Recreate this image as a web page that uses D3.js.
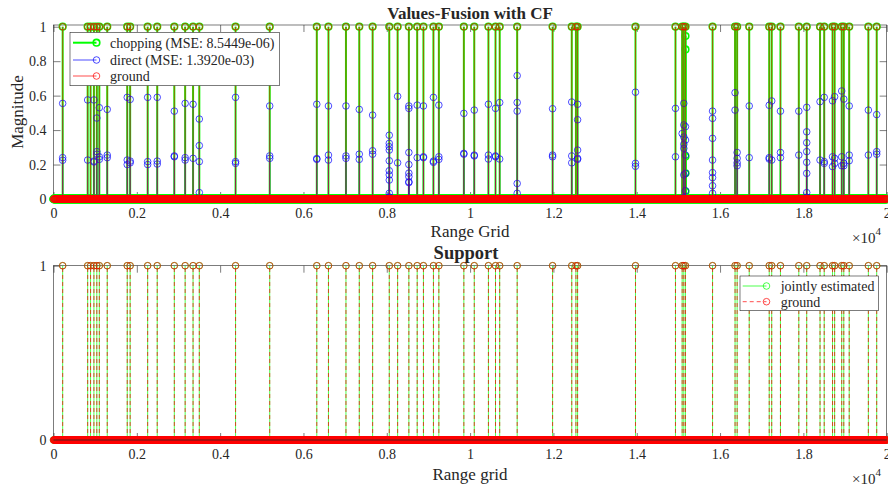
<!DOCTYPE html>
<html><head><meta charset="utf-8">
<script src="https://cdn.jsdelivr.net/npm/d3@7"></script>
<style>
body{margin:0;background:#fff}
svg{display:block}
text{font-family:"Liberation Serif","Times New Roman",serif;fill:#262626}
</style>
</head><body>
<svg id="c" width="888" height="488"></svg>
<script>
// ---------- data ----------
const xTicks = [0,2000,4000,6000,8000,10000,12000,14000,16000,18000,20000];
const yTicksTop = [0,0.2,0.4,0.6,0.8,1];
const yTicksBottom = [0,1];
const rangeGridStep = 10;            // range grid spacing (all non-support cells are 0)
const rangeGridMax = 20000;

// ground-truth support positions (value 1)
const supportPositions = [220,820,890,970,1040,1100,1290,1770,1840,2260,2490,2900,3160,3350,3500,4370,5190,
  6320,6600,7020,7340,7660,8060,8260,8530,8730,8880,9120,9250,9850,10100,10440,10610,10710,11130,11980,
  12440,12540,12580,13970,14930,15090,15130,15170,15820,16360,16410,16700,17180,17240,17450,17890,18080,
  18400,18500,18700,18750,18920,18970,19100,19560,19760];

// chopping estimate: 1 on the support plus a few off-support values near 1.51e4
const choppingExtra = [[15170,0.946],[15170,0.868],[15170,0.246],[15170,0.149],[15170,0.043]];

// direct estimate: [range, magnitude]
const directPoints = [
[220,0.555],[220,0.24],[220,0.225],
[820,0.575],[820,0.226],
[970,0.575],[970,0.22],[970,0.215],
[1040,0.47],[1040,0.275],[1040,0.26],
[1100,0.53],[1100,0.245],[1100,0.23],
[1290,0.52],[1290,0.255],[1290,0.24],
[1770,0.59],[1770,0.226],[1770,0.2],
[1840,0.578],[1840,0.22],[1840,0.21],
[2260,0.59],[2260,0.217],[2260,0.2],
[2490,0.59],[2490,0.22],[2490,0.203],
[2900,0.51],[2900,0.25],[2900,0.245],
[3160,0.555],[3160,0.24],[3160,0.226],
[3350,0.55],[3350,0.236],
[3500,0.464],[3500,0.31],[3500,0.217],[3500,0.037],
[4370,0.59],[4370,0.217],[4370,0.207],
[5190,0.54],[5190,0.25],[5190,0.236],
[6320,0.55],[6320,0.235],[6320,0.23],
[6600,0.54],[6600,0.255],[6600,0.226],
[7020,0.54],[7020,0.25],[7020,0.236],
[7340,0.52],[7340,0.26],[7340,0.23],
[7660,0.487],[7660,0.28],[7660,0.26],
[8060,0.37],[8060,0.323],[8060,0.304],[8060,0.284],[8060,0.222],[8060,0.164],[8060,0.14],[8060,0.11],[8060,0.033],[8060,0.012],[8060,0.008],
[8260,0.596],[8260,0.21],
[8530,0.54],[8530,0.526],[8530,0.27],[8530,0.2],[8530,0.15],[8530,0.13],[8530,0.1],[8530,0.095],
[8730,0.545],[8730,0.24],
[8880,0.54],[8880,0.245],[8880,0.24],
[9120,0.59],[9120,0.22],[9120,0.213],
[9250,0.545],[9250,0.245],[9250,0.23],
[9850,0.497],[9850,0.265],[9850,0.26],
[10100,0.516],[10100,0.255],[10100,0.25],
[10440,0.55],[10440,0.255],[10440,0.232],
[10610,0.526],[10610,0.25],[10610,0.245],
[10710,0.56],[10710,0.232],
[11130,0.716],[11130,0.56],[11130,0.51],[11130,0.09],[11130,0.033],
[11980,0.524],[11980,0.255],[11980,0.245],
[12440,0.563],[12440,0.25],[12440,0.21],
[12580,0.55],[12580,0.46],[12580,0.284],[12580,0.236],[12580,0.23],
[13970,0.62],[13970,0.207],[13970,0.19],
[14930,0.526],[14930,0.245],
[15130,0.555],[15130,0.43],[15170,0.42],[15090,0.38],[15130,0.36],[15170,0.342],[15130,0.317],[15130,0.294],[15170,0.255],[15170,0.149],[15130,0.14],[15170,0.048],[15130,0.01],
[15820,0.51],[15820,0.468],[15820,0.352],[15820,0.226],[15820,0.153],[15820,0.124],[15820,0.077],[15820,0.033],
[16360,0.617],[16360,0.516],[16410,0.27],[16410,0.236],[16410,0.21],[16410,0.193],
[16700,0.54],[16700,0.24],
[17180,0.544],[17180,0.24],[17180,0.232],
[17240,0.569],[17240,0.226],
[17450,0.51],[17450,0.27],[17450,0.24],
[17890,0.51],[17890,0.255],
[18080,0.532],[18080,0.39],[18080,0.327],[18080,0.275],[18080,0.213],[18080,0.149],[18080,0.037],[18080,0.01],[18080,0.006],
[18400,0.565],[18400,0.226],
[18500,0.59],[18500,0.217],[18500,0.207],
[18700,0.57],[18700,0.245],[18700,0.188],
[18750,0.594],[18750,0.236],[18750,0.207],
[18920,0.627],[18920,0.245],[18920,0.193],
[18970,0.58],[18970,0.207],[18970,0.193],
[19100,0.54],[19100,0.255],[19100,0.222],
[19560,0.516],[19560,0.255],
[19760,0.49],[19760,0.275],[19760,0.26]
];

const legendTop = ["chopping (MSE: 8.5449e-06)","direct (MSE: 1.3920e-03)","ground"];
const legendBottom = ["jointly estimated","ground"];

// ---------- derived series ----------
const rangeGrid = d3.range(0, rangeGridMax + 1, rangeGridStep);
const zeroPoints = rangeGrid.map(r => [r, 0]);
const groundPoints = supportPositions.map(r => [r, 1]);
const choppingPoints = groundPoints.concat(choppingExtra);
const jointPoints = groundPoints;

// ---------- drawing ----------
const svg = d3.select('#c');
const FONT = '"Liberation Serif","Times New Roman",serif';
const GREEN = '#00ff00', BLUE = '#0000ff', RED = '#ff0000', AX = '#262626';
const R = 3.3;

const x = d3.scaleLinear().domain([0, 20000]).range([53.5, 886.7]);
const yT = d3.scaleLinear().domain([0, 1.01]).range([199, 25]);
const yB = d3.scaleLinear().domain([0, 1]).range([440, 265.7]);

function axes(y, yTicks) {
  const [y0, y1] = y.range();
  const g = svg.append('g');
  g.append('rect').attr('x', x(0)).attr('y', y1).attr('width', x(20000) - x(0)).attr('height', y0 - y1)
    .attr('fill', 'none').attr('stroke', AX).attr('stroke-width', 0.6);
  const ax = (gen, tr) => {
    const a = g.append('g').attr('transform', tr).call(gen);
    a.attr('font-family', null).attr('font-size', null);
    a.select('.domain').remove();
    a.selectAll('line').attr('stroke', AX).attr('stroke-width', 0.6);
    a.selectAll('text').attr('font-family', FONT).attr('font-size', 14).attr('fill', AX);
  };
  const f = d3.format('~g');
  ax(d3.axisBottom(x).tickValues(xTicks).tickSize(-7).tickPadding(9).tickFormat(d => f(d / 1e4)), `translate(0,${y0})`);
  ax(d3.axisTop(x).tickValues(xTicks).tickSize(-7).tickFormat(''), `translate(0,${y1})`);
  ax(d3.axisLeft(y).tickValues(yTicks).tickSize(-7).tickPadding(7).tickFormat(f), `translate(${x(0)},0)`);
  ax(d3.axisRight(y).tickValues(yTicks).tickSize(-7).tickFormat(''), `translate(${x(20000)},0)`);
}

function stems(y, pts, color, w, dash) {
  svg.append('g').selectAll('line').data(pts).join('line')
    .attr('x1', d => x(d[0])).attr('x2', d => x(d[0]))
    .attr('y1', y(0)).attr('y2', d => y(d[1]))
    .attr('stroke', color).attr('stroke-width', w).attr('stroke-dasharray', dash || null);
}
function markers(y, pts, color, w) {
  svg.append('g').selectAll('circle').data(pts).join('circle')
    .attr('cx', d => x(d[0])).attr('cy', d => y(d[1])).attr('r', R)
    .attr('fill', 'none').attr('stroke', color).attr('stroke-width', w);
}
function times10(yBase) {
  const t = svg.append('text').attr('x', 852).attr('y', yBase).attr('font-size', 15);
  t.append('tspan').text('×10');
  t.append('tspan').attr('dy', -8).attr('font-size', 11).text('4');
}

// ----- top plot -----
axes(yT, yTicksTop);
stems(yT, choppingPoints, GREEN, 2);
markers(yT, zeroPoints, GREEN, 2.2);
markers(yT, choppingPoints, GREEN, 1.6);
stems(yT, directPoints, BLUE, 0.3);
markers(yT, directPoints, BLUE, 0.7);
stems(yT, groundPoints, RED, 0.6);
markers(yT, zeroPoints, RED, 0.7);
markers(yT, groundPoints, RED, 0.7);

svg.append('text').attr('x', 470).attr('y', 18.5).attr('text-anchor', 'middle')
  .attr('font-size', 17).attr('font-weight', 'bold').attr('fill', '#000').text('Values-Fusion with CF');
svg.append('text').attr('x', 470).attr('y', 237).attr('text-anchor', 'middle').attr('font-size', 17).text('Range Grid');
svg.append('text').attr('transform', 'translate(22.5,112) rotate(-90)').attr('text-anchor', 'middle').attr('font-size', 17).text('Magnitude');
times10(243);

// top legend
{
  const g = svg.append('g');
  g.append('rect').attr('x', 70).attr('y', 32.3).attr('width', 209.3).attr('height', 53.4)
    .attr('fill', '#fff').attr('stroke', AX).attr('stroke-width', 0.6);
  const rows = [42.7, 60, 76];
  const st = [[GREEN, 2, 1.6], [BLUE, 0.7, 0.7], [RED, 0.7, 0.7]];
  legendTop.forEach((lab, i) => {
    g.append('line').attr('x1', 73).attr('x2', 96.5).attr('y1', rows[i]).attr('y2', rows[i])
      .attr('stroke', st[i][0]).attr('stroke-width', st[i][1]);
    g.append('circle').attr('cx', 96.5).attr('cy', rows[i]).attr('r', R).attr('fill', 'none')
      .attr('stroke', st[i][0]).attr('stroke-width', st[i][2]);
    g.append('text').attr('x', 110).attr('y', rows[i] + 5).attr('font-size', 14).attr('fill', '#000').text(lab);
  });
}

// ----- bottom plot -----
axes(yB, yTicksBottom);
stems(yB, jointPoints, GREEN, 0.7);
markers(yB, zeroPoints, GREEN, 0.7);
markers(yB, jointPoints, GREEN, 0.7);
stems(yB, groundPoints, RED, 0.7, '4,3');
markers(yB, zeroPoints, RED, 0.8);
markers(yB, groundPoints, RED, 0.7);
svg.append('line').attr('x1', x(0)).attr('x2', x(20000)).attr('y1', yB(0)).attr('y2', yB(0))
  .attr('stroke', AX).attr('stroke-width', 0.8);

svg.append('text').attr('x', 466).attr('y', 258.5).attr('text-anchor', 'middle')
  .attr('font-size', 18.5).attr('font-weight', 'bold').attr('fill', '#000').text('Support');
svg.append('text').attr('x', 470).attr('y', 479.5).attr('text-anchor', 'middle').attr('font-size', 17).text('Range grid');
times10(484);

// bottom legend
{
  const g = svg.append('g');
  g.append('rect').attr('x', 740).attr('y', 276).attr('width', 138.3).attr('height', 34.7)
    .attr('fill', '#fff').attr('stroke', AX).attr('stroke-width', 0.6);
  const rows = [286, 301.7];
  const st = [[GREEN, null], [RED, '4,3']];
  legendBottom.forEach((lab, i) => {
    g.append('line').attr('x1', 742.7).attr('x2', 766.5).attr('y1', rows[i]).attr('y2', rows[i])
      .attr('stroke', st[i][0]).attr('stroke-width', 0.7).attr('stroke-dasharray', st[i][1]);
    g.append('circle').attr('cx', 766.5).attr('cy', rows[i]).attr('r', R).attr('fill', 'none')
      .attr('stroke', st[i][0]).attr('stroke-width', 0.7);
    g.append('text').attr('x', 780.7).attr('y', rows[i] + 5).attr('font-size', 14).attr('fill', '#000').text(lab);
  });
}
</script>
</body></html>
